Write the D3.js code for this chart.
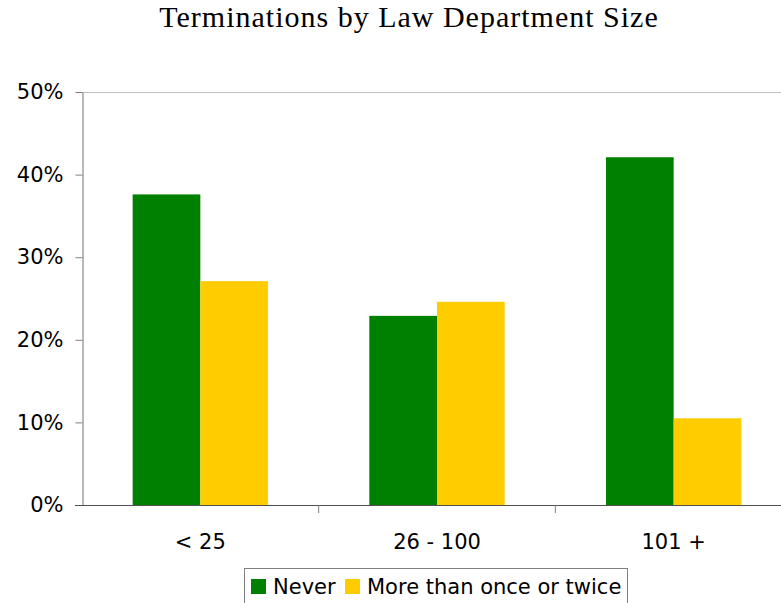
<!DOCTYPE html>
<html>
<head>
<meta charset="utf-8">
<script src="https://cdn.jsdelivr.net/npm/d3@7"></script>
<style>
  body { margin: 0; background: #fff; }
  svg { display: block; }
</style>
</head>
<body>
<svg width="781" height="603"></svg>
<script>
// chart data
var categories = ["< 25", "26 - 100", "101 +"];
var seriesNames = ["Never", "More than once or twice"];
var neverValues = [37.6, 22.9, 42.1];
var moreValues = [27.1, 24.6, 10.5];
var yTicks = [0, 10, 20, 30, 40, 50];
var colors = ["#008000", "#ffcc00"];

var svg = d3.select("svg"),
    width = +svg.attr("width"),
    height = +svg.attr("height");

var plotLeft = 82, plotRight = 792, plotTop = 92, plotBottom = 505;
var font = "'DejaVu Sans', Verdana, sans-serif";

var x = d3.scaleBand()
    .domain(categories)
    .range([plotLeft, plotRight])
    .paddingInner(0.428)
    .paddingOuter(0.214);

var xs = d3.scaleBand()
    .domain(seriesNames)
    .range([0, x.bandwidth()]);

var y = d3.scaleLinear()
    .domain([0, 50])
    .range([plotBottom, plotTop]);

// title
svg.append("text")
    .attr("x", 409)
    .attr("y", 27)
    .attr("text-anchor", "middle")
    .style("font-family", "'Liberation Serif', 'Times New Roman', serif")
    .style("font-size", "30px")
    .style("letter-spacing", "1px")
    .text("Terminations by Law Department Size");

// plot area top border
svg.append("line")
    .attr("x1", plotLeft).attr("x2", width)
    .attr("y1", y(50) + 0.5).attr("y2", y(50) + 0.5)
    .attr("stroke", "#c0c0c0")
    .attr("stroke-width", 1.2);

var data = categories.map(function (c, i) {
    return { cat: c, vals: [neverValues[i], moreValues[i]] };
});

var groups = svg.append("g")
    .selectAll("g")
    .data(data)
    .enter().append("g")
    .attr("transform", function (d) { return "translate(" + x(d.cat) + ",0)"; });

groups.selectAll("rect")
    .data(function (d) {
        return d.vals.map(function (v, j) { return { name: seriesNames[j], v: v, j: j }; });
    })
    .enter().append("rect")
    .attr("x", function (d) { return xs(d.name); })
    .attr("y", function (d) { return y(d.v); })
    .attr("width", xs.bandwidth())
    .attr("height", function (d) { return y(0) - y(d.v); })
    .attr("fill", function (d) { return colors[d.j]; });

// y axis
var yAxis = svg.append("g")
    .attr("transform", "translate(" + (plotLeft + 0.5) + ",0)")
    .call(d3.axisLeft(y).tickValues(yTicks).tickSize(7).tickPadding(12).tickSizeOuter(0)
        .tickFormat(function (d) { return d + "%"; }));
yAxis.select(".domain").attr("stroke", "#a0a0a0").attr("stroke-width", 1.5);
yAxis.selectAll(".tick line").attr("stroke", "#808080");
yAxis.selectAll("text")
    .style("font-family", font)
    .style("font-size", "21px")
    .attr("fill", "#000");

// x axis, ticks between categories
var boundaries = categories.slice(1).map(function (c) {
    return x(c) - x.step() * x.paddingInner() / 2;
});
svg.append("line")
    .attr("x1", plotLeft - 7).attr("x2", width)
    .attr("y1", plotBottom + 0.5).attr("y2", plotBottom + 0.5)
    .attr("stroke", "#505050")
    .attr("stroke-width", 1.2);
svg.append("g")
    .selectAll("line")
    .data(boundaries)
    .enter().append("line")
    .attr("x1", function (d) { return d; })
    .attr("x2", function (d) { return d; })
    .attr("y1", plotBottom).attr("y2", plotBottom + 8)
    .attr("stroke", "#808080");
svg.append("g")
    .selectAll("text")
    .data(categories)
    .enter().append("text")
    .attr("x", function (d) { return x(d) + x.bandwidth() / 2; })
    .attr("y", 549)
    .attr("text-anchor", "middle")
    .style("font-family", font)
    .style("font-size", "21px")
    .text(function (d) { return d; });

// legend
var legend = svg.append("g");
legend.append("rect")
    .attr("x", 244.5).attr("y", 568.5)
    .attr("width", 383).attr("height", 40)
    .attr("fill", "#fff")
    .attr("stroke", "#808080");
var legendX = [251, 345];
var item = legend.selectAll("g.item")
    .data(seriesNames)
    .enter().append("g")
    .attr("class", "item")
    .attr("transform", function (d, i) { return "translate(" + legendX[i] + ",0)"; });
item.append("rect")
    .attr("x", 0).attr("y", 579)
    .attr("width", 15).attr("height", 15)
    .attr("fill", function (d, i) { return colors[i]; });
item.append("text")
    .attr("x", 22).attr("y", 594)
    .style("font-family", font)
    .style("font-size", "21px")
    .text(function (d) { return d; });
</script>
</body>
</html>
